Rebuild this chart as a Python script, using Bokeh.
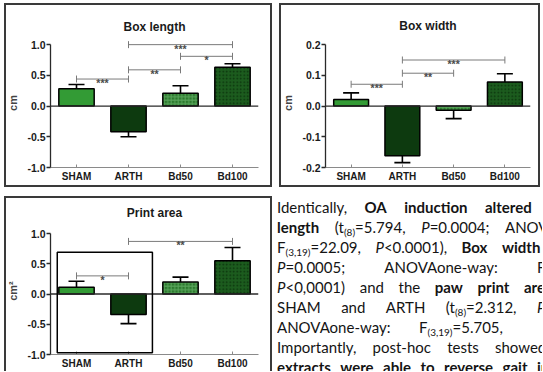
import math
from bokeh.plotting import figure
from bokeh.models import FactorRange, Range1d, Span, FixedTicker, NumeralTickFormatter, Div, BoxAnnotation
from bokeh.layouts import row, column
from bokeh.embed import file_html
from bokeh.resources import INLINE
from bokeh.core.properties import value

# ---------------- data ----------------
groups = ["SHAM", "ARTH", "Bd50", "Bd100"]

length_mean = [0.28, -0.42, 0.21, 0.63]
length_sem = [0.07, 0.08, 0.12, 0.06]
length_ticks = [-1.0, -0.5, 0.0, 0.5, 1.0]
length_sig_a = ["SHAM", "ARTH", "ARTH", "Bd50"]
length_sig_b = ["ARTH", "Bd50", "Bd100", "Bd100"]
length_sig_h = [0.44, 0.59, 1.0, 0.81]
length_sig_t = ["***", "**", "***", "*"]

width_mean = [0.021, -0.162, -0.014, 0.078]
width_sem = [0.022, 0.022, 0.027, 0.027]
width_ticks = [-0.2, -0.1, 0.0, 0.1, 0.2]
width_sig_a = ["SHAM", "ARTH", "ARTH"]
width_sig_b = ["ARTH", "Bd50", "Bd100"]
width_sig_h = [0.071, 0.107, 0.15]
width_sig_t = ["***", "**", "***"]

area_mean = [0.11, -0.34, 0.20, 0.55]
area_sem = [0.10, 0.15, 0.08, 0.22]
area_ticks = [-1.0, -0.5, 0.0, 0.5, 1.0]
area_sig_a = ["SHAM", "ARTH"]
area_sig_b = ["ARTH", "Bd100"]
area_sig_h = [0.30, 0.87]
area_sig_t = ["*", "**"]
area_inset_groups = ["SHAM", "ARTH"]

# text block (one list of words per printed line)
text_lines = [
    ["Identically,", "<b>OA</b>", "<b>induction</b>", "<b>altered</b>"],
    ["<b>length</b>", "(t<sub>(8)</sub>=5.794,", "<i>P</i>=0.0004;", "ANOVAone-way:"],
    ["F<sub>(3,19)</sub>=22.09,", "<i>P</i>&lt;0.0001),", "<b>Box</b>", "<b>width</b>"],
    ["<i>P</i>=0.0005;", "ANOVAone-way:", "F<sub>(3,19)</sub>"],
    ["<i>P</i>&lt;0,0001)", "and", "the", "<b>paw</b>", "<b>print</b>", "<b>area</b>"],
    ["SHAM", "and", "ARTH", "(t<sub>(8)</sub>=2.312,", "<i>P</i>"],
    ["ANOVAone-way:", "F<sub>(3,19)</sub>=5.705,"],
    ["Importantly,", "post-hoc", "tests", "showed"],
    ["<b>extracts</b>", "<b>were</b>", "<b>able</b>", "<b>to</b>", "<b>reverse</b>", "<b>gait</b>", "<b>impairments</b>"],
]
# x (px) where the last, clipped word of each line starts
text_last_x = [208, 228, 225, 260, 247, 260, 142, 218, 260]

# ---------------- style ----------------
FONT = "Liberation Sans"
bar_fill = ["#339b35", "#0d3a0f", "#2c7a2e", "#1c5c1e"]
bar_hatch = [" ", " ", "+", "."]
bar_hatch_color = ["#339b35", "#0d3a0f", "#5aa55c", "#0b330c"]


def make_panel(title, ylabel, means, sems, ticks, sig_a, sig_b, sig_h, sig_t,
               w, h, mb_left, mb_right, mb_top, mb_bottom, title_standoff, shadow):
    lo, hi = ticks[0], ticks[-1]
    span = hi - lo
    p = figure(x_range=FactorRange(*groups, range_padding=0),
               y_range=Range1d(lo, hi + 0.05 * span),
               width=w, height=h, output_backend="svg", toolbar_location=None,
               min_border_left=mb_left, min_border_right=mb_right,
               min_border_top=mb_top, min_border_bottom=mb_bottom,
               background_fill_color=None, border_fill_color=None,
               outline_line_color=None,
               styles={"box-shadow": shadow})
    p.title.text = title
    p.title.align = "center"
    p.title.text_font = FONT
    p.title.text_font_size = "12px"
    p.title.text_font_style = "bold"
    p.title.text_color = "#1a1a1a"
    p.title.standoff = title_standoff
    p.xgrid.visible = False
    p.ygrid.visible = False

    # bars
    p.vbar(x=groups, top=means, bottom=0, width=0.68, fill_color=bar_fill,
           line_color="black", line_width=1.5, hatch_pattern=bar_hatch,
           hatch_color=bar_hatch_color, hatch_scale=3.5, hatch_weight=1.0)
    # error bars (outward from the bar end)
    caps = [m + s if m >= 0 else m - s for m, s in zip(means, sems)]
    p.segment(x0=groups, y0=means, x1=groups, y1=caps, line_color="black", line_width=1.6)
    p.scatter(x=groups, y=caps, marker="dash", size=16, line_color="black", line_width=1.6)
    # zero line
    p.add_layout(Span(location=0, dimension="width", line_color="#2a2a2a", line_width=1.3))

    # significance brackets
    p.segment(x0=sig_a, y0=sig_h, x1=sig_b, y1=sig_h, line_color="#7a7a7a", line_width=1)
    p.scatter(x=sig_a + sig_b, y=sig_h + sig_h, marker="dash", angle=math.pi / 2, size=7,
              line_color="#7a7a7a", line_width=1)
    mids = [(groups.index(a) + groups.index(b)) / 2 + 0.5 for a, b in zip(sig_a, sig_b)]
    p.text(x=mids, y=sig_h, text=sig_t, text_align="center", text_baseline="alphabetic",
           y_offset=4, text_font=value(FONT), text_font_size="10.5px", text_font_style="bold",
           text_color="#4a4a4a")

    # axes
    p.yaxis.ticker = FixedTicker(ticks=ticks)
    p.yaxis.formatter = NumeralTickFormatter(format="0.0")
    p.yaxis.bounds = (lo, hi)
    p.yaxis.axis_label = ylabel
    p.yaxis.axis_label_text_font = FONT
    p.yaxis.axis_label_text_font_style = "bold"
    p.yaxis.axis_label_text_font_size = "11px"
    p.yaxis.axis_label_standoff = 5
    p.yaxis.major_label_text_font = FONT
    p.yaxis.major_label_text_font_style = "bold"
    p.yaxis.major_label_text_font_size = "10.5px"
    p.yaxis.major_label_text_color = "#1a1a1a"
    p.yaxis.major_label_standoff = 1
    p.yaxis.major_tick_out = 4
    p.yaxis.major_tick_in = 0
    p.yaxis.minor_tick_line_color = None
    p.yaxis.axis_line_color = "#2a2a2a"
    p.yaxis.axis_line_width = 1.3
    p.yaxis.major_tick_line_color = "#2a2a2a"
    p.yaxis.major_tick_line_width = 1.3

    p.xaxis.major_label_text_font = FONT
    p.xaxis.major_label_text_font_style = "bold"
    p.xaxis.major_label_text_font_size = "10px"
    p.xaxis.major_label_text_color = "#1a1a1a"
    p.xaxis.major_label_standoff = 3
    p.xaxis.major_tick_in = 3
    p.xaxis.major_tick_out = 0
    p.xaxis.axis_line_color = "#8a8a8a"
    p.xaxis.major_tick_line_color = "#8a8a8a"
    return p


BORDER = "inset 0 0 0 2px #3a3a3a"
BORDER_OPEN = "inset 2px 2px 0 0 #3a3a3a, inset -2px 0 0 0 #3a3a3a"

p1 = make_panel("Box length", "cm", length_mean, length_sem, length_ticks,
                length_sig_a, length_sig_b, length_sig_h, length_sig_t,
                268, 184, 46, 14, 35, 19, 9, BORDER)
p2 = make_panel("Box width", "cm", width_mean, width_sem, width_ticks,
                width_sig_a, width_sig_b, width_sig_h, width_sig_t,
                261, 184, 42, 10, 33, 20, 12, BORDER)
p3 = make_panel("Print area", "cm²", area_mean, area_sem, area_ticks,
                area_sig_a, area_sig_b, area_sig_h, area_sig_t,
                268, 175, 46, 14, 28, 15, 15, BORDER_OPEN)
i0 = groups.index(area_inset_groups[0])
i1 = groups.index(area_inset_groups[-1])
p3.add_layout(BoxAnnotation(left=i0 + 0.13, right=i1 + 0.96, top=0.69, bottom=-0.97,
                            fill_color=None, fill_alpha=0, line_color="black",
                            line_alpha=1, line_width=1.5))

# text block
line_html = []
for toks, lx in zip(text_lines, text_last_x):
    items = "".join(f"<span>{t}</span>" for t in toks[:-1])
    items += (f"<span style='flex:0 0 0px;width:0;min-width:0;overflow:visible;'>{toks[-1]}</span>")
    line_html.append(
        f"<div style='display:flex;justify-content:space-between;width:{lx}px;"
        f"height:20px;line-height:20px;white-space:nowrap;'>{items}</div>")
html = ("<div style=\"width:265px;height:175px;overflow:hidden;font-family:Lato;font-size:15px;"
        "color:#141414;margin:0;padding:0;\"><style>sub{font-size:10px;vertical-align:-3px;line-height:0;}</style>"
        "<div style='margin-top:1px;'>" + "".join(line_html) + "</div></div>")
div = Div(text=html, width=265, height=175, margin=0)

layout = column(row(p1, p2, spacing=7), row(p3, div, spacing=5), spacing=9,
                margin=(3, 0, 0, 4))

open("out.html", "w").write(file_html(layout, INLINE))
